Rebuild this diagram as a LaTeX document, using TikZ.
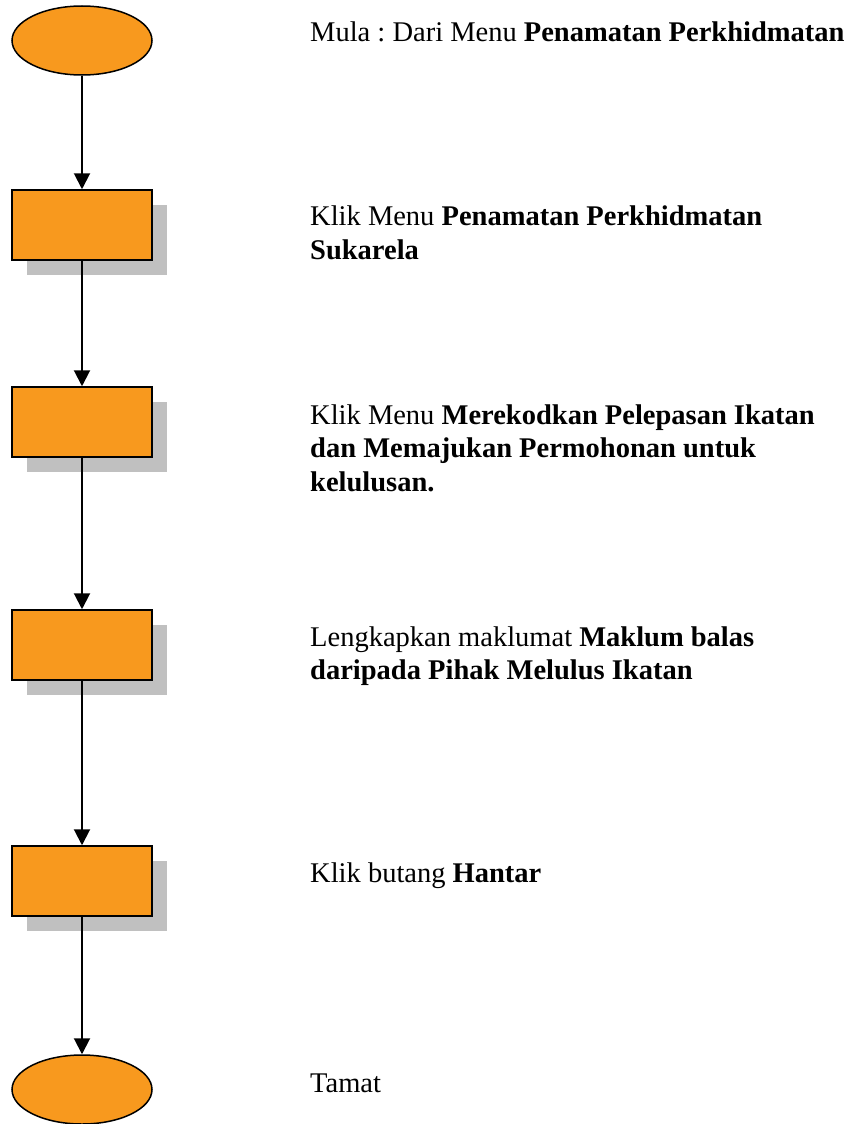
\documentclass[tikz,border=0pt]{standalone}
\usepackage{fontspec}
\setmainfont{Liberation Serif}
\usetikzlibrary{arrows.meta,shapes.geometric,shadows}
\definecolor{flowfill}{RGB}{248,153,30}
\definecolor{shadowgray}{RGB}{192,192,192}
\frenchspacing
\begin{document}
\begin{tikzpicture}[x=1pt,y=-1pt,
  terminal/.style={ellipse, draw=black, line width=1.5pt, fill=flowfill,
    minimum width=140pt, minimum height=69pt, inner sep=0pt},
  process/.style={rectangle, draw=black, line width=1.5pt, fill=flowfill,
    minimum width=140pt, minimum height=70pt, inner sep=0pt,
    drop shadow={shadow xshift=15pt, shadow yshift=-15pt, fill=shadowgray, opacity=1}},
  flow/.style={line width=2pt, -{Triangle[length=16pt,width=16pt]}},
  steptext/.style={anchor=north west, inner sep=0pt, align=left,
    font=\fontsize{28.5}{33.5}\selectfont}
]
\useasboundingbox (0,0) rectangle (853,1124);

% flowchart shapes
\node[terminal] (start) at (82,40.5) {};
\node[process] (s1) at (82,225) {};
\node[process] (s2) at (82,422) {};
\node[process] (s3) at (82,645) {};
\node[process] (s4) at (82,881) {};
\node[terminal] (stop) at (82,1089.5) {};

% connectors
\draw[flow] (start.south) -- (s1.north);
\draw[flow] (s1.south) -- (s2.north);
\draw[flow] (s2.south) -- (s3.north);
\draw[flow] (s3.south) -- (s4.north);
\draw[flow] (s4.south) -- (stop.north);

% step descriptions
\node[steptext] (t0) at (310,17.5) {\strut Mula : Dari Menu \textbf{Penamatan Perkhidmatan}};
\node[steptext] (t1) at (310,202) {\strut Klik Menu \textbf{Penamatan Perkhidmatan}\\\textbf{Sukarela}};
\node[steptext] (t2) at (310,400.5) {\strut Klik Menu \textbf{Merekodkan Pelepasan Ikatan}\\\textbf{dan Memajukan Permohonan untuk}\\\textbf{kelulusan.}};
\node[steptext] (t3) at (310,622.5) {\strut Lengkapkan maklumat \textbf{Maklum balas}\\\textbf{daripada Pihak Melulus Ikatan}};
\node[steptext] (t4) at (310,858.5) {\strut Klik butang \textbf{Hantar}};
\node[steptext] (t5) at (310,1068.5) {\strut Tamat};
\end{tikzpicture}
\end{document}
